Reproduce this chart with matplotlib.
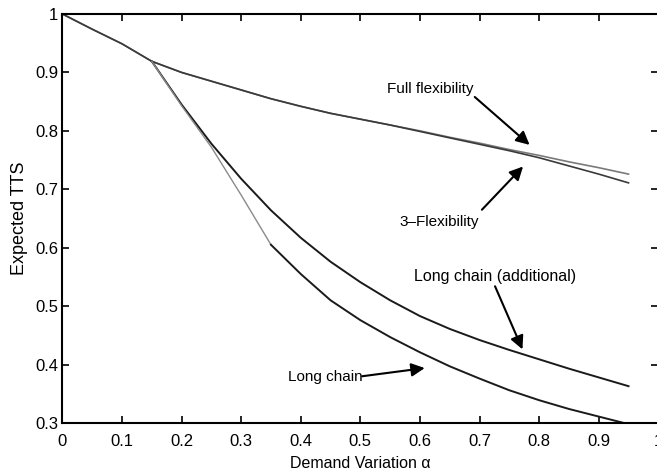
import matplotlib
matplotlib.use("Agg")
import matplotlib.pyplot as plt
from matplotlib.ticker import FuncFormatter

plt.rcParams['font.family'] = ['Liberation Sans', 'DejaVu Sans']

# Demand variation alpha
alpha = [0.0, 0.05, 0.10, 0.15, 0.20, 0.25, 0.30, 0.35, 0.40, 0.45,
         0.50, 0.55, 0.60, 0.65, 0.70, 0.75, 0.80, 0.85, 0.90, 0.95]

full_flex = [1.000, 0.974, 0.949, 0.919, 0.900, 0.885, 0.870, 0.855, 0.842, 0.830,
             0.820, 0.810, 0.800, 0.789, 0.779, 0.768, 0.758, 0.747, 0.737, 0.726]

three_flex = [1.000, 0.974, 0.949, 0.919, 0.900, 0.885, 0.870, 0.855, 0.842, 0.830,
              0.820, 0.810, 0.799, 0.788, 0.777, 0.766, 0.754, 0.740, 0.726, 0.711]

long_chain_add = [1.000, 0.974, 0.949, 0.919, 0.845, 0.778, 0.718, 0.664, 0.617, 0.576,
                  0.541, 0.510, 0.483, 0.461, 0.442, 0.425, 0.409, 0.393, 0.378, 0.363]

long_chain = [1.000, 0.974, 0.949, 0.919, 0.843, 0.772, 0.690, 0.605, 0.555, 0.510,
              0.476, 0.447, 0.421, 0.397, 0.376, 0.356, 0.339, 0.324, 0.311, 0.298]

x_ticks = [0, 0.1, 0.2, 0.3, 0.4, 0.5, 0.6, 0.7, 0.8, 0.9, 1.0]
y_ticks = [0.3, 0.4, 0.5, 0.6, 0.7, 0.8, 0.9, 1.0]

fig = plt.figure(figsize=(6.57, 4.75), dpi=100)
ax = fig.add_axes([0.095, 0.1095, 0.907, 0.861])

ax.plot(alpha, full_flex, color='#7a7a7a', lw=1.2)
ax.plot(alpha, three_flex, color='#3a3a3a', lw=1.2)
ax.plot(alpha[3:], long_chain_add[3:], color='#1a1a1a', lw=1.4)
# long chain: light segment between 0.15 and 0.35, dark afterwards
ax.plot(alpha[3:8], long_chain[3:8], color='#8a8a8a', lw=1.0)
ax.plot(alpha[7:], long_chain[7:], color='#1a1a1a', lw=1.4)

ax.set_xlim(0, 1)
ax.set_ylim(0.3, 1)
ax.set_xticks(x_ticks)
ax.set_yticks(y_ticks)
fmt = FuncFormatter(lambda v, p: ('%g' % round(v, 2)))
ax.xaxis.set_major_formatter(fmt)
ax.yaxis.set_major_formatter(fmt)
ax.tick_params(direction='in', length=5, width=1.2, top=True, right=True,
               labelsize=12)
ax.tick_params(axis='x', pad=8)
ax.tick_params(axis='y', pad=3)
for s in ax.spines.values():
    s.set_linewidth(1.5)

ax.set_xlabel('Demand Variation α', fontsize=11.5, labelpad=5)
ax.set_ylabel('Expected TTS', fontsize=13, labelpad=5)

ap = dict(arrowstyle='-|>', color='k', lw=1.5, mutation_scale=20,
          shrinkA=0, shrinkB=0)
ax.text(0.617, 0.872, 'Full flexibility', fontsize=11, ha='center', va='center')
ax.annotate('', xy=(0.784, 0.776), xytext=(0.692, 0.858), arrowprops=ap)

ax.text(0.633, 0.644, '3\u2013Flexibility', fontsize=11, ha='center', va='center')
ax.annotate('', xy=(0.773, 0.739), xytext=(0.704, 0.665), arrowprops=ap)

ax.text(0.726, 0.550, 'Long chain (additional)', fontsize=11.5, ha='center', va='center')
ax.annotate('', xy=(0.772, 0.426), xytext=(0.726, 0.534), arrowprops=ap)

ax.text(0.441, 0.379, 'Long chain', fontsize=11, ha='center', va='center')
ax.annotate('', xy=(0.608, 0.394), xytext=(0.503, 0.380), arrowprops=ap)

fig.savefig('out.png', dpi=100)
